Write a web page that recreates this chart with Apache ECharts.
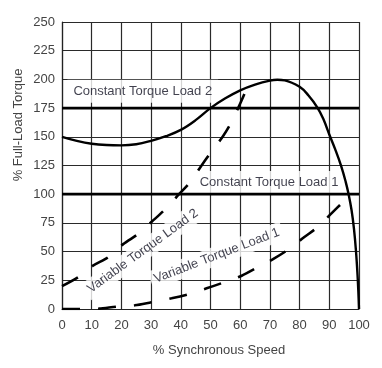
<!DOCTYPE html>
<html><head><meta charset="utf-8">
<script src="https://cdn.jsdelivr.net/npm/echarts@6/dist/echarts.min.js"></script>
<style>html,body{margin:0;padding:0;background:#fff}#c{width:382px;height:368px}</style>
</head><body><div id="c"></div>
<script>
// ---- data ----
const motorSpeed  = [0, 5, 10, 15, 20, 25, 30, 35, 40, 45, 50, 55, 60, 65, 70, 72.5, 75, 80, 83, 86, 88, 90, 92, 94, 95.5, 96.5, 97.5, 98.3, 99, 99.5, 99.8, 100];
const motorTorque = [150, 146.5, 144, 142.8, 142.5, 143.5, 146.5, 150.5, 156, 164.5, 175, 183.5, 190.5, 195.5, 199, 199.7, 199.2, 193.5, 186, 175.5, 165.5, 152, 139, 124.5, 111, 100, 86, 70, 50, 30, 14, 0];
const ctLoad2Torque = 175;
const ctLoad1Torque = 100;
const vt2Speed  = [0, 5.6, 10.3, 15.5, 20.6, 25.7, 30.2, 34.8, 39.4, 43, 46.7, 50, 54.2, 57.1, 60, 62.5];
const vt2Torque = [20, 28, 37.5, 45, 56.5, 65.5, 76, 87, 100, 110, 124, 136, 150.5, 163, 179, 194];
const vt1Speed  = [0, 6, 12.4, 18.3, 24.5, 30.1, 36.9, 42.5, 48.7, 54.3, 60.5, 66, 71.2, 76.3, 81.6, 86.1, 90.9, 95.2];
const vt1Torque = [0, 0, 0.3, 2, 3.2, 5.9, 9.3, 12.8, 18, 23, 29, 36.5, 43.7, 52, 62.7, 71.4, 83.7, 94.7];
const labelTexts  = ['Constant Torque Load 2', 'Constant Torque Load 1', 'Variable Torque Load 2', 'Variable Torque Load 1'];
const labelSpeed  = [27.2, 69.7, 27.2, 52.1];
const labelTorque = [189.7, 110.1, 50.5, 46.5];
const labelAngle  = [0, 0, 36, 21];
const xTickMin = 0, xTickMax = 100, xTickStep = 10;
const yTickMin = 0, yTickMax = 250, yTickStep = 25;
const xTitle = '% Synchronous Speed';
const yTitle = '% Full-Load Torque';

const pairs = (xs, ys) => xs.map((x, i) => [x, ys[i]]);
const FONT = '"Liberation Sans", Arial, Helvetica, sans-serif';
const chart = echarts.init(document.getElementById('c'), null, {renderer: 'canvas'});
const solid = (data, w) => ({type: 'line', data, symbol: 'none', z: 3, animation: false,
  lineStyle: {color: '#000', width: w}, silent: true});
const dashed = (data) => ({type: 'line', data, symbol: 'none', z: 3, animation: false, smooth: 0.3,
  lineStyle: {color: '#000', width: 2.6, type: [18, 18], cap: 'butt'}, silent: true});

chart.setOption({
  animation: false,
  backgroundColor: '#fff',
  grid: {left: 62, right: 23, top: 22, bottom: 59, containLabel: false},
  xAxis: {type: 'value', min: xTickMin, max: xTickMax, interval: xTickStep,
    axisLine: {show: true, lineStyle: {color: '#222', width: 1.2}},
    axisTick: {show: false},
    axisLabel: {color: '#444', fontSize: 13, fontFamily: FONT, margin: 10},
    splitLine: {show: true, lineStyle: {color: '#2a2a2a', width: 1.2}}},
  yAxis: {type: 'value', min: yTickMin, max: yTickMax, interval: yTickStep,
    axisLine: {show: true, lineStyle: {color: '#222', width: 1.2}},
    axisTick: {show: false},
    axisLabel: {color: '#444', fontSize: 13, fontFamily: FONT, margin: 7},
    splitLine: {show: true, lineStyle: {color: '#2a2a2a', width: 1.2}}},
  graphic: [
    {type: 'text', x: 18, y: 125, rotation: Math.PI / 2,
      style: {text: yTitle, fill: '#444', font: '13px ' + FONT, textAlign: 'center', textVerticalAlign: 'middle'}},
    {type: 'text', x: 219, y: 350,
      style: {text: xTitle, fill: '#444', font: '13px ' + FONT, textAlign: 'center', textVerticalAlign: 'middle'}}
  ],
  series: [
    {type: 'scatter', z: 1, silent: true, symbolSize: 1, itemStyle: {color: 'rgba(0,0,0,0)'},
      data: labelTexts.map((t, i) => ({
        value: [labelSpeed[i], labelTorque[i]], name: t,
        label: {show: true, position: 'inside', formatter: t, rotate: labelAngle[i],
          color: '#111122', fontSize: 13, fontFamily: FONT,
          backgroundColor: '#fff', padding: i < 2 ? [5, 6, 5, 6] : [3, 4, 3, 4]}
      }))},
    solid(pairs([xTickMin, xTickMax], [ctLoad2Torque, ctLoad2Torque]), 2.8),
    solid(pairs([xTickMin, xTickMax], [ctLoad1Torque, ctLoad1Torque]), 2.8),
    Object.assign(solid(pairs(motorSpeed, motorTorque), 2.4), {smooth: 0.4}),
    dashed(pairs(vt2Speed, vt2Torque)),
    dashed(pairs(vt1Speed, vt1Torque))
  ]
});
</script></body></html>
